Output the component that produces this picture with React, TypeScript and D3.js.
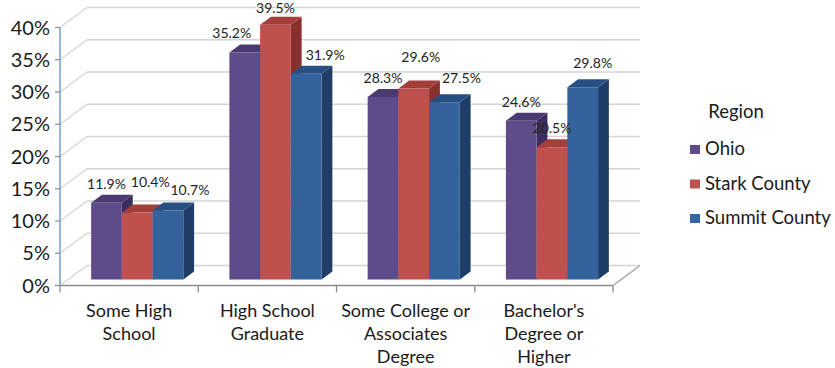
import React from "react";
import * as d3 from "d3";

// ---- data ----
const categories = [
  "Some High\nSchool",
  "High School\nGraduate",
  "Some College or\nAssociates\nDegree",
  "Bachelor's\nDegree or\nHigher",
];
const seriesNames = ["Ohio", "Stark County", "Summit County"];
const ohioValues = [0.119, 0.352, 0.283, 0.246];
const starkValues = [0.104, 0.395, 0.296, 0.205];
const summitValues = [0.107, 0.319, 0.275, 0.298];
const yTickValues = [0, 0.05, 0.1, 0.15, 0.2, 0.25, 0.3, 0.35, 0.4];
const legendTitle = "Region";

// ---- styling / layout ----
const W = 835;
const H = 368;
const FONT = "Lato, Carlito, 'Open Sans', sans-serif";
const frontColors = ["#5E4B89", "#C0504D", "#33629C"];
const topColors = ["#4A3A72", "#A23F3B", "#284F84"];
const sideColors = ["#3B2D5E", "#88302D", "#1F3D67"];
const legendColors = ["#5F4B8B", "#C0504D", "#3465A4"];
// Excel-style label nudges (per category, per series)
const labelDx = [[0, 13, 22], [-13, 0, 19], [0, 7, 17], [0, 0, 10]];
const labelDy = [[0, -11, -1.5], [0, 2.5, 0], [0, -12.6, -5], [0, 0, -5]];

const plotLeft = 60;
const plotRight = 613;
const DX = 27; // full depth offset
const DY = -20;
const barDepthFront = 0.3;
const barDepthBack = 0.7;

export default function App() {
  const seriesValues = [ohioValues, starkValues, summitValues];
  const y = d3.scaleLinear().domain([0, 0.4]).range([285.5, 27.5]);
  const x = d3.scaleBand<string>().domain(categories).range([plotLeft, plotRight]).padding(0);
  const xs = d3
    .scaleBand<string>()
    .domain(seriesNames)
    .range([0, x.bandwidth()])
    .paddingInner(0)
    .paddingOuter(0.75);
  const pct0 = d3.format(".0%");
  const pct1 = d3.format(".1%");

  const fdx = barDepthFront * DX;
  const fdy = barDepthFront * DY;
  const bdx = (barDepthBack - barDepthFront) * DX;
  const bdy = (barDepthBack - barDepthFront) * DY;

  const bars: React.ReactNode[] = [];
  const labels: React.ReactNode[] = [];
  categories.forEach((c, ci) => {
    seriesNames.forEach((s, si) => {
      const v = seriesValues[si][ci];
      const x0 = (x(c) as number) + (xs(s) as number) + fdx;
      const x1 = x0 + xs.bandwidth();
      const yt = y(v) + fdy;
      const yb = y(0) + fdy;
      const front = `M${x0},${yb}L${x0},${yt}L${x1},${yt}L${x1},${yb}Z`;
      const top = `M${x0},${yt}L${x0 + bdx},${yt + bdy}L${x1 + bdx},${yt + bdy}L${x1},${yt}Z`;
      const side = `M${x1},${yb}L${x1},${yt}L${x1 + bdx},${yt + bdy}L${x1 + bdx},${yb + bdy}Z`;
      bars.push(
        <g key={`b${ci}-${si}`}>
          <path d={side} fill={sideColors[si]} />
          <path d={top} fill={topColors[si]} />
          <path d={front} fill={frontColors[si]} />
        </g>
      );
      labels.push(
        <text
          key={`l${ci}-${si}`}
          x={(x0 + x1) / 2 + labelDx[ci][si]}
          y={yt + bdy - 6 + labelDy[ci][si]}
          textAnchor="middle"
          fontSize={14}
          fill="#222"
        >
          {pct1(v)}
        </text>
      );
    });
  });

  const y0 = y(0);
  return (
    <svg
      width={W}
      height={H}
      style={{ position: "absolute", left: 0, top: 0, background: "#fff" }}
      fontFamily={FONT}
    >
      {/* gridlines: side wall + back wall */}
      {yTickValues.map((t) => (
        <g key={`g${t}`} stroke="#D4D4D4" strokeWidth={1.3} fill="none">
          <line x1={plotLeft} y1={y(t)} x2={plotLeft + DX} y2={y(t) + DY} />
          <line x1={plotLeft + DX} y1={y(t) + DY} x2={plotRight + DX} y2={y(t) + DY} />
        </g>
      ))}
      {/* floor edges */}
      <line x1={plotRight} y1={y0} x2={plotRight + DX} y2={y0 + DY} stroke="#A0A0A0" strokeWidth={1.3} />
      <line x1={plotLeft} y1={y0} x2={plotRight} y2={y0} stroke="#8C8C8C" strokeWidth={1.5} />
      {x.domain().concat(["end"]).map((c, i) => {
        const xx = c === "end" ? plotRight : (x(c) as number);
        return <line key={`xt${i}`} x1={xx} y1={y0} x2={xx} y2={y0 + 7} stroke="#8C8C8C" strokeWidth={1.3} />;
      })}
      {/* y axis */}
      <line x1={plotLeft} y1={y(0.4)} x2={plotLeft} y2={y0} stroke="#7FA3D0" strokeWidth={1.6} />
      {yTickValues.map((t) => (
        <g key={`yt${t}`}>
          <line x1={plotLeft - 5} y1={y(t)} x2={plotLeft} y2={y(t)} stroke="#8C8C8C" strokeWidth={1.2} />
          <text x={plotLeft - 10} y={y(t) + 7} textAnchor="end" fontSize={20} fill="#1A1A1A">
            {pct0(t)}
          </text>
        </g>
      ))}
      {bars}
      {labels}
      {/* category labels */}
      {categories.map((c) => (
        <text
          key={`c${c}`}
          x={(x(c) as number) + x.bandwidth() / 2}
          y={317}
          textAnchor="middle"
          fontSize={18}
          fill="#1A1A1A"
        >
          {c.split("\n").map((line, li) => (
            <tspan key={li} x={(x(c) as number) + x.bandwidth() / 2} dy={li === 0 ? 0 : 23}>
              {line}
            </tspan>
          ))}
        </text>
      ))}
      {/* legend */}
      <text x={736} y={118} textAnchor="middle" fontSize={18.5} fill="#1A1A1A">
        {legendTitle}
      </text>
      {seriesNames.map((s, i) => (
        <g key={`lg${s}`} transform={`translate(0,${155 + i * 34.5})`}>
          <rect x={690} y={-10} width={10} height={9} fill={legendColors[i]} />
          <text x={705} y={0} fontSize={18.5} fill="#1A1A1A">
            {s}
          </text>
        </g>
      ))}
    </svg>
  );
}
